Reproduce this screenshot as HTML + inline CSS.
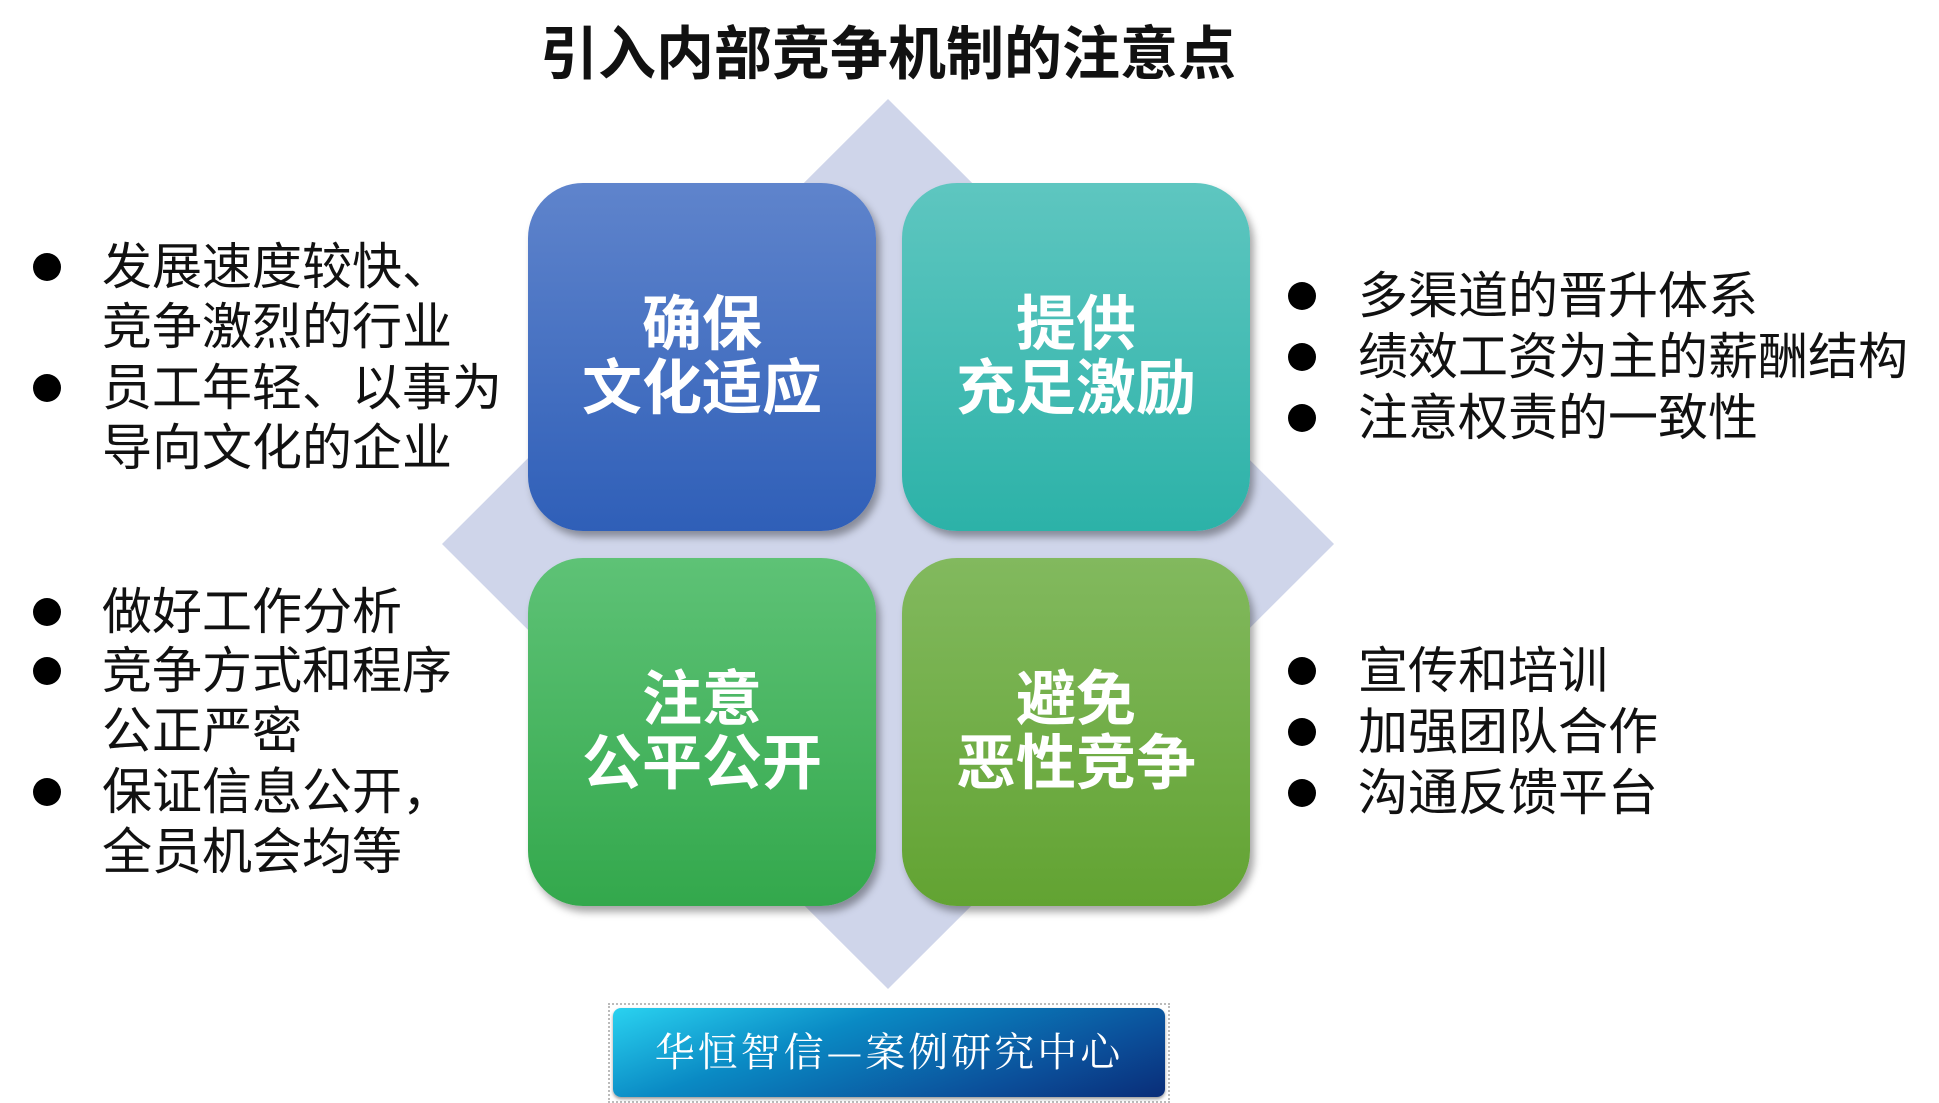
<!DOCTYPE html>
<html><head><meta charset="utf-8"><style>
body{margin:0;width:1939px;height:1102px;background:#fff;position:relative;overflow:hidden;font-family:"Liberation Sans","Noto Sans CJK SC",sans-serif;}
.t{position:absolute;white-space:nowrap;line-height:1;}
.title{left:0;width:1776px;text-align:center;top:26px;font-size:58px;font-weight:bold;color:#111;}
.box{position:absolute;width:348px;height:348px;border-radius:55px;box-shadow:4px 6px 8px rgba(0,0,0,0.35);color:#fff;font-weight:bold;font-size:60px;text-align:center;display:flex;align-items:center;justify-content:center;line-height:64px;}
.li{position:absolute;font-size:50px;color:#111;white-space:nowrap;line-height:60px;}
.dot{position:absolute;width:28px;height:28px;border-radius:50%;background:#000;}
</style></head><body>
<div class="t title">引入内部竞争机制的注意点</div>
<svg style="position:absolute;left:0;top:0" width="1939" height="1102"><polygon points="888,99 1334,544 888,989 442,544" fill="#cfd5ea"/></svg>
<div class="box" style="left:528px;top:183px;background:linear-gradient(#5f84cc,#2f5fb8)">确保<br>文化适应</div>
<div class="box" style="left:902px;top:183px;background:linear-gradient(#5ec6c0,#2cb2a8)">提供<br>充足激励</div>
<div class="box" style="left:528px;top:558px;background:linear-gradient(#5ec276,#33a84c)">注意<br>公平公开</div>
<div class="box" style="left:902px;top:558px;background:linear-gradient(#82b95e,#62a332)">避免<br>恶性竞争</div>

<div class="dot" style="left:33px;top:253px"></div>
<div class="li" style="left:102px;top:237px">发展速度较快、<br>竞争激烈的行业</div>
<div class="dot" style="left:33px;top:374px"></div>
<div class="li" style="left:102px;top:358px">员工年轻、以事为<br>导向文化的企业</div>

<div class="dot" style="left:33px;top:598px"></div>
<div class="li" style="left:102px;top:582px">做好工作分析</div>
<div class="dot" style="left:33px;top:657px"></div>
<div class="li" style="left:102px;top:641px">竞争方式和程序<br>公正严密</div>
<div class="dot" style="left:33px;top:778px"></div>
<div class="li" style="left:102px;top:762px">保证信息公开，<br>全员机会均等</div>

<div class="dot" style="left:1288px;top:282px"></div>
<div class="li" style="left:1358px;top:266px">多渠道的晋升体系</div>
<div class="dot" style="left:1288px;top:343px"></div>
<div class="li" style="left:1358px;top:327px">绩效工资为主的薪酬结构</div>
<div class="dot" style="left:1288px;top:404px"></div>
<div class="li" style="left:1358px;top:388px">注意权责的一致性</div>

<div class="dot" style="left:1288px;top:657px"></div>
<div class="li" style="left:1358px;top:641px">宣传和培训</div>
<div class="dot" style="left:1288px;top:718px"></div>
<div class="li" style="left:1358px;top:702px">加强团队合作</div>
<div class="dot" style="left:1288px;top:779px"></div>
<div class="li" style="left:1358px;top:763px">沟通反馈平台</div>

<div style="position:absolute;left:608px;top:1003px;width:562px;height:100px;border:2px dotted #bbb;box-sizing:border-box"></div>
<div style="position:absolute;left:613px;top:1008px;width:552px;height:89px;border-radius:8px;background:linear-gradient(160deg,#2ad2f0 0%,#0a8ac4 35%,#0b4f9a 75%,#0a2d78 100%);box-shadow:0 2px 3px rgba(0,0,0,0.4);"></div>
<div class="t" style="left:613px;top:1030px;width:552px;text-align:center;font-size:40px;color:#fff;font-family:'Noto Serif CJK SC','WenQuanYi Zen Hei',serif;letter-spacing:3px">华恒智信—案例研究中心</div>
</body></html>
